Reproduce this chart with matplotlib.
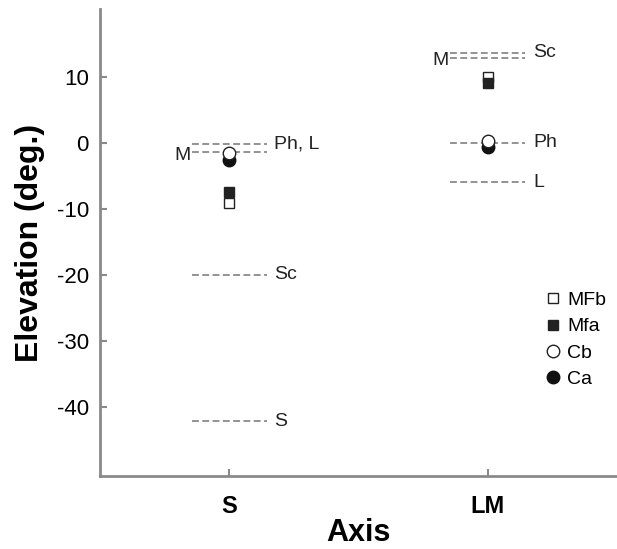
import matplotlib
matplotlib.use("Agg")
import matplotlib.pyplot as plt

plt.rcParams["font.family"] = ["Liberation Sans", "DejaVu Sans"]
plt.rcParams["axes.unicode_minus"] = False

# axis categories (x positions 1, 2)
axes_names = ["S", "LM"]

# reference elevations (dashed lines): (axis index, elevation, label, label side)
ref_axis = [0, 0, 0, 0, 1, 1, 1, 1]
ref_elev = [-0.2, -1.4, -20.0, -42.2, 13.6, 12.9, 0.0, -6.0]
ref_label = ["Ph, L", "M", "Sc", "S", "Sc", "M", "Ph", "L"]
ref_side = ["right", "left", "right", "right", "right", "left", "right", "right"]

# measured points per axis (S, LM)
series_names = ["MFb", "Mfa", "Cb", "Ca"]
mfb = [-9.2, 10.0]
mfa = [-7.4, 9.1]
cb = [-1.6, 0.3]
ca = [-2.6, -0.6]

fig = plt.figure(figsize=(6.17, 5.49), dpi=100)
ax = fig.add_axes([0.162, 0.133, 0.838, 0.85])

grey = "#8a8a8a"
half = 0.145
for a, e, lab, side in zip(ref_axis, ref_elev, ref_label, ref_side):
    x = a + 1
    ax.plot([x - half, x + half], [e, e], ls=(0, (3.8, 1.9)), color=grey, lw=1.3, zorder=1)
    if side == "right":
        ax.text(x + half + 0.03, e, lab, ha="left", va="center", fontsize=14, color="#222222")
    else:
        ax.text(x - half - 0.005, e - 0.5, lab, ha="right", va="center", fontsize=14, color="#222222")

xs = [1, 2]
ax.plot(xs, mfb, ls="none", marker="s", ms=7, mfc="white", mec="#222222", mew=1.0, label="MFb", zorder=3)
ax.plot(xs, mfa, ls="none", marker="s", ms=7, mfc="#222222", mec="#222222", mew=1.0, label="Mfa", zorder=3)
ax.plot(xs, ca, ls="none", marker="o", ms=9, mfc="#111111", mec="#111111", mew=1.0, label="Ca", zorder=3)
ax.plot(xs, cb, ls="none", marker="o", ms=9, mfc="white", mec="#222222", mew=1.0, label="Cb", zorder=4)

handles, labels = ax.get_legend_handles_labels()
order = [labels.index(n) for n in series_names]
ax.legend([handles[i] for i in order], [labels[i] for i in order],
          loc="upper left", bbox_to_anchor=(0.838, 0.412), frameon=False,
          fontsize=14, handletextpad=0.15, labelspacing=0.45, handlelength=1.2,
          borderaxespad=0)

ax.set_xlim(0.5, 2.5)
ax.set_ylim(-50.5, 20.2)
ax.set_xticks(xs)
ax.set_xticklabels(axes_names, fontsize=17, fontweight="bold")
ax.set_yticks([10, 0, -10, -20, -30, -40])
ax.tick_params(axis="y", labelsize=16, direction="in", length=5, color=grey, width=1.5, pad=8)
ax.tick_params(axis="x", direction="in", length=5, color=grey, width=1.5, pad=14)
for s in ["top", "right"]:
    ax.spines[s].set_visible(False)
for s in ["left", "bottom"]:
    ax.spines[s].set_color(grey)
    ax.spines[s].set_linewidth(2)
ax.set_xlabel("Axis", fontsize=22, fontweight="bold", labelpad=0)
ax.set_ylabel("Elevation (deg.)", fontsize=23, fontweight="bold", labelpad=8)

fig.savefig("out.png", dpi=100)
